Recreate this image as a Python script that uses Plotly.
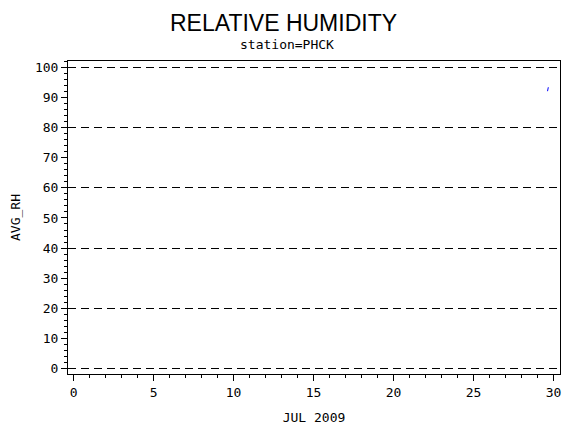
import plotly.graph_objects as go

# data (day of July 2009, average relative humidity)
days = [29.62, 29.67]
avg_rh = [92.0, 93.3]

x_ticks = [0, 5, 10, 15, 20, 25, 30]
y_ticks = [0, 10, 20, 30, 40, 50, 60, 70, 80, 90, 100]
grid_vals = [0, 20, 40, 60, 80, 100]

FONT = "DejaVu Sans Mono"

fig = go.Figure()
fig.add_trace(go.Scatter(x=days, y=avg_rh, mode="lines",
                         line=dict(color="blue", width=1), showlegend=False))
# invisible trace on second y axis for dashed grid
fig.add_trace(go.Scatter(x=[days[0]], y=[avg_rh[0]], yaxis="y2", mode="markers",
                         marker=dict(opacity=0), showlegend=False, hoverinfo="skip"))

yr = [-1.7, 102]
fig.update_layout(
    width=562, height=422,
    margin=dict(l=60, r=10, t=53, b=56, autoexpand=False),
    paper_bgcolor="white", plot_bgcolor="white",
    font=dict(family=FONT, size=13, color="black"),
    xaxis=dict(range=[-0.35, 30.4], tickvals=x_ticks, ticks="outside", ticklen=6,
               tickcolor="black", showline=True, mirror=True, linecolor="black",
               linewidth=1, showgrid=False, zeroline=False, automargin=False,
               minor=dict(dtick=1, ticks="outside", ticklen=3, tickcolor="black", showgrid=False),
               title=dict(text="JUL 2009", font=dict(family=FONT, size=13), standoff=14),
               tickfont=dict(family=FONT, size=13)),
    yaxis=dict(range=yr, tickvals=y_ticks, ticks="outside", ticklen=6,
               tickcolor="black", showline=True, mirror=True, linecolor="black",
               linewidth=1, showgrid=False, zeroline=False, automargin=False,
               minor=dict(dtick=2, ticks="outside", ticklen=3, tickcolor="black", showgrid=False),
               title=dict(text="AVG_RH", font=dict(family=FONT, size=13), standoff=14),
               tickfont=dict(family=FONT, size=13)),
    yaxis2=dict(range=yr, overlaying="y", side="left", tickvals=grid_vals,
                showticklabels=False, ticks="", showgrid=True, gridcolor="black",
                gridwidth=1, griddash="8px,5px", zeroline=False, showline=False,
                automargin=False),
    annotations=[
        dict(text="RELATIVE HUMIDITY", xref="paper", yref="paper", x=0.439, y=1.0,
             xanchor="center", yanchor="middle", yshift=38, showarrow=False,
             font=dict(family="Liberation Sans", size=23, color="black")),
        dict(text="station=PHCK", xref="paper", yref="paper", x=0.445, y=1.0,
             xanchor="center", yanchor="middle", yshift=17, showarrow=False,
             font=dict(family=FONT, size=13, color="black")),
    ],
)
fig.write_html("out.html")
